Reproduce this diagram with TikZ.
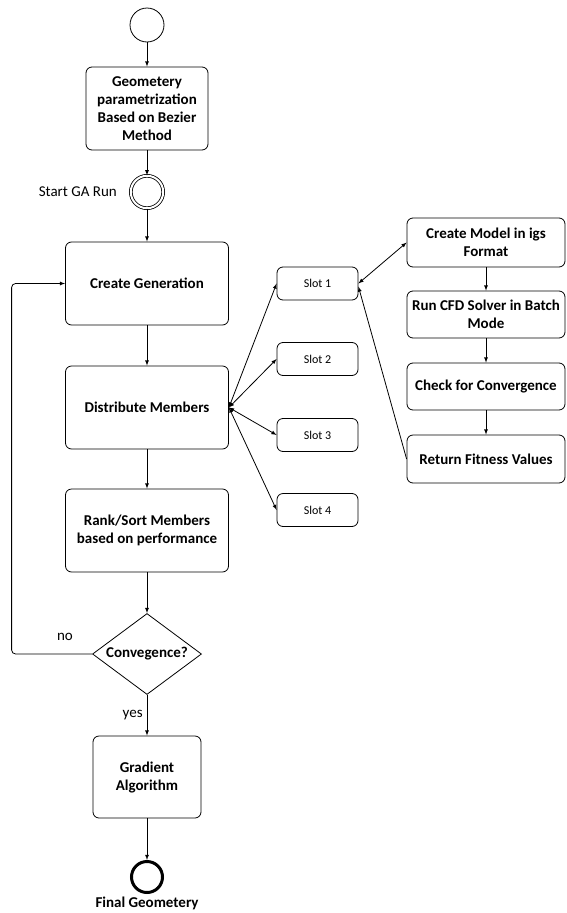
\documentclass[tikz,border=0pt]{standalone}
\usepackage{fontspec}
\setmainfont{Carlito}
\usetikzlibrary{shapes.geometric}
\begin{document}
\begin{tikzpicture}[x=1pt,y=-1pt]

\tikzstyle{every node}=[font=\fontsize{15}{18}\selectfont, align=center, inner sep=0pt]
\tikzstyle{task}=[draw, rounded corners=6pt, line width=0.8pt, font=\fontsize{15}{18}\selectfont\bfseries]
\tikzstyle{slotbox}=[draw, rounded corners=6pt, line width=0.8pt, minimum width=81pt, minimum height=33pt, font=\fontsize{12}{14}\selectfont]
\tikzstyle{flow}=[->, >=latex, line width=0.8pt]

\useasboundingbox (0,0) rectangle (566,913);

\pgfmathsetmacro\x{147}
\pgfmathsetmacro\xs{317.5}
\pgfmathsetmacro\xr{486}

% main column
\node[circle, draw, line width=0.8pt, minimum size=34pt] (start) at (\x,25) {};

\node[task, minimum width=122pt, minimum height=83pt] (geometry) at (\x,108.5)
{Geometery\\ parametrization\\ Based on Bezier\\ Method};

\node[circle, draw, double, double distance=2pt, line width=0.8pt, minimum size=32.4pt] (startga) at (\x,192) {};
\node[anchor=east] (startga_label) at (117,192) {Start GA Run};

\node[task, minimum width=163pt, minimum height=83pt] (generation) at (\x,283.5) {Create Generation};
\node[task, minimum width=163pt, minimum height=83pt] (distribute) at (\x,407.5) {Distribute Members};
\node[task, minimum width=163pt, minimum height=83pt] (rank) at (\x,530.5) {Rank/Sort Members\\ based on performance};

\node[diamond, draw, aspect=1.4, line width=0.8pt, minimum width=109pt, minimum height=81pt, font=\fontsize{15}{18}\selectfont\bfseries] (converged) at (\x,654) {Convegence?};

\node[task, minimum width=108pt, minimum height=82pt] (gradient) at (\x,777) {Gradient\\ Algorithm};

\node[circle, draw, line width=3pt, minimum size=31pt] (final) at (\x,877) {};
\node[font=\fontsize{15}{18}\selectfont\bfseries] (final_label) at (\x,903) {Final Geometery};

\draw[flow] (start) -- (geometry);
\draw[flow] (geometry) -- (startga);
\draw[flow] (startga) -- (generation);
\draw[flow] (generation) -- (distribute);
\draw[flow] (distribute) -- (rank);
\draw[flow] (rank) -- (converged);
\draw[flow] (converged) -- node[left, xshift=-4pt] {yes} (gradient);
\draw[flow] (gradient) -- (final);
\draw[flow, rounded corners=4pt] (converged.west) -- ++(-80.5,0) |- (generation.west);
\node (no_label) at (65,637) {no};

% slots
\node[slotbox] (slot1) at (\xs,283.5) {Slot 1};
\node[slotbox] (slot2) at (\xs,359) {Slot 2};
\node[slotbox] (slot3) at (\xs,435) {Slot 3};
\node[slotbox] (slot4) at (\xs,510) {Slot 4};

\foreach \s in {slot1,slot2,slot3,slot4}
  \draw[flow, <->] (distribute.east) -- (\s.west);

% evaluation of one member
\node[task, minimum width=158pt, minimum height=49pt] (model) at (\xr,242.5) {Create Model in igs\\ Format};
\node[task, minimum width=158pt, minimum height=47pt] (solver) at (\xr,314.5) {Run CFD Solver in Batch\\ Mode};
\node[task, minimum width=158pt, minimum height=47pt] (check) at (\xr,386.5) {Check for Convergence};
\node[task, minimum width=158pt, minimum height=48pt] (fitness) at (\xr,459) {Return Fitness Values};

\draw[flow, <->] (slot1.east) -- (model.west);
\draw[flow] (model) -- (solver);
\draw[flow] (solver) -- (check);
\draw[flow] (check) -- (fitness);
\draw[flow] (fitness.west) -- ([yshift=-3pt]slot1.east);

\end{tikzpicture}
\end{document}
